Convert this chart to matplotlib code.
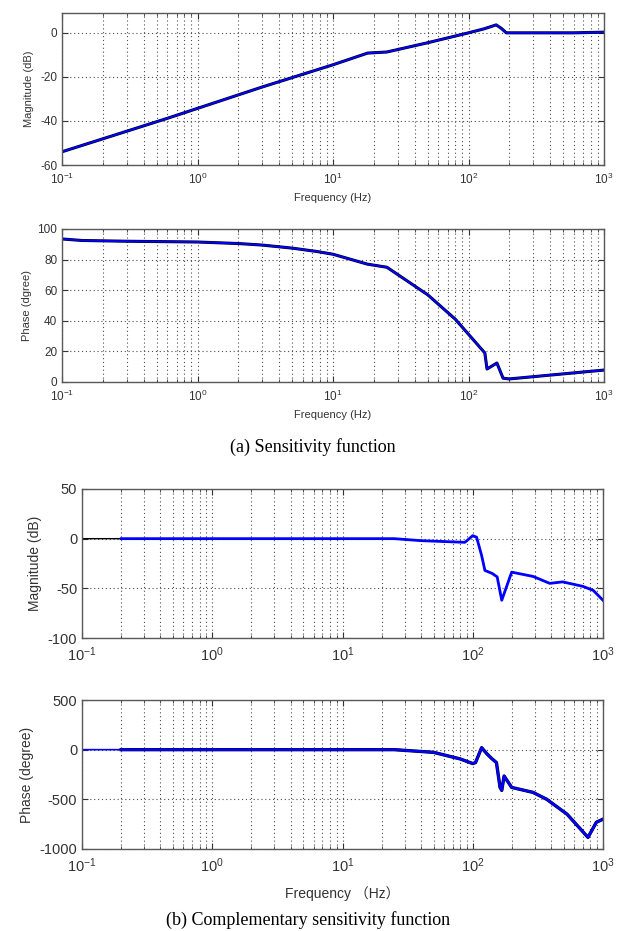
import numpy as np
from matplotlib import pyplot as plt
from matplotlib.ticker import LogLocator, NullFormatter

plt.rcParams['axes.unicode_minus'] = False
plt.rcParams['mathtext.fontset'] = 'custom'
plt.rcParams['mathtext.rm'] = 'Liberation Sans'
plt.rcParams['mathtext.it'] = 'Liberation Sans:italic'
plt.rcParams['mathtext.bf'] = 'Liberation Sans:bold'

# sensitivity function S
s_freq = [0.1, 0.6, 1, 3, 10, 18, 25, 50, 100, 130, 160, 175, 190, 300, 600, 1000]
s_mag = [-54, -38.8, -34.3, -24.6, -14.5, -9.2, -8.7, -4.5, 0, 1.8, 3.6, 2, 0, 0, 0, 0.3]
s_ph_freq = [0.1, 0.14, 0.3, 1, 2, 3, 5, 7.6, 10, 18, 25, 50, 80, 132, 137, 162, 180, 200, 1000]
s_phase = [93.5, 92.5, 92, 91.5, 90.5, 89.5, 87.5, 85.3, 83.5, 77, 75, 57, 41, 19, 8.5, 12.4, 2.5, 2, 7.8]

# complementary sensitivity function T
t_freq = [0.1, 0.2, 25, 40, 87, 100, 107, 117, 124, 141, 154, 167, 199, 290, 390, 490, 700, 840, 1000]
t_mag = [0, 0, 0, -2, -3.7, 3, 1.5, -17, -32, -35, -38.5, -62, -33.7, -38, -45, -43.5, -48, -52, -62]
t_ph_freq = [0.1, 0.2, 25, 50, 80, 100, 105, 117, 128, 140, 152, 162, 167, 174, 199, 290, 370, 530, 767, 890, 1000]
t_phase = [0, 0, 0, -27, -93, -140, -130, 20, -40, -90, -130, -380, -410, -265, -380, -430, -500, -650, -883, -730, -700]

W, H = 623, 931
fig = plt.figure(figsize=(W / 100, H / 100), dpi=100)
sans = ['Liberation Sans', 'Noto Sans CJK SC']


def make_axes(x0, x1, y0, y1):
    return fig.add_axes([x0 / W, 1 - y1 / H, (x1 - x0) / W, (y1 - y0) / H])


def style(ax, ylim, yticks, fs):
    ax.set_xscale('log')
    ax.set_xlim(0.1, 1000)
    ax.set_ylim(*ylim)
    ax.set_yticks(yticks)
    ax.xaxis.set_major_locator(LogLocator(base=10, numticks=10))
    ax.xaxis.set_minor_locator(LogLocator(base=10, subs=np.arange(2, 10), numticks=20))
    ax.xaxis.set_minor_formatter(NullFormatter())
    ax.tick_params(which='both', direction='in', top=True, right=True, labelsize=fs, colors='0.2')
    ax.tick_params(which='major', length=4)
    ax.tick_params(which='minor', length=2.5)
    ax.tick_params(axis='x', pad=5)
    for lab in ax.get_xticklabels() + ax.get_yticklabels():
        lab.set_family(sans)
    ax.grid(True, which='both', axis='x', linestyle=(0, (1, 2.5)), color='0.3', lw=0.8)
    ax.grid(True, which='major', axis='y', linestyle=(0, (1, 2.5)), color='0.3', lw=0.8)
    for sp in ax.spines.values():
        sp.set_color('0.35')
        sp.set_linewidth(1.0)
    ax.set_axisbelow(True)


# (a) top: magnitude
ax1 = make_axes(62, 604, 13, 165)
ax1.plot(s_freq, s_mag, color='k', lw=2.2)
ax1.plot(s_freq, s_mag, color='#0000ff', lw=1.4)
style(ax1, (-60, 9), [-60, -40, -20, 0], 8.5)
ax1.set_ylabel('Magnitude (dB)', fontsize=8, family=sans, color='0.2')
ax1.set_xlabel('Frequency (Hz)', fontsize=8, family=sans, color='0.2', labelpad=4)

# (a) bottom: phase
ax2 = make_axes(62, 604, 229, 382)
ax2.plot(s_ph_freq, s_phase, color='k', lw=2.2)
ax2.plot(s_ph_freq, s_phase, color='#0000ff', lw=1.4)
style(ax2, (0, 100), [0, 20, 40, 60, 80, 100], 8.5)
ax2.set_ylabel('Phase (dgree)', fontsize=8, family=sans, color='0.2')
ax2.set_xlabel('Frequency (Hz)', fontsize=8, family=sans, color='0.2', labelpad=4)

fig.text(313 / W, 1 - 447 / H, '(a) Sensitivity function', ha='center', va='center',
         fontsize=13, family='Liberation Serif')

# (b) top: magnitude
ax3 = make_axes(82, 603, 489, 638)
ax3.plot(t_freq, t_mag, color='k', lw=1.0)
ax3.plot(t_freq[1:], t_mag[1:], color='#0000ff', lw=2.0)
style(ax3, (-100, 50), [-100, -50, 0, 50], 10.5)
ax3.set_ylabel('Magnitude (dB)', fontsize=10, family=sans, color='0.2')

# (b) bottom: phase
ax4 = make_axes(82, 603, 700, 849)
ax4.plot(t_ph_freq, t_phase, color='#0000ff', lw=1.2)
ax4.plot(t_ph_freq[1:], t_phase[1:], color='k', lw=2.4)
ax4.plot(t_ph_freq[1:], t_phase[1:], color='#0000ff', lw=1.8)
style(ax4, (-1000, 500), [-1000, -500, 0, 500], 10.5)
ax4.set_ylabel('Phase (degree)', fontsize=10, family=sans, color='0.2')
ax4.set_xlabel('Frequency （Hz）', fontsize=10, family=sans, color='0.2', labelpad=8)

fig.text(308 / W, 1 - 920 / H, '(b) Complementary sensitivity function', ha='center', va='center',
         fontsize=13, family='Liberation Serif')

fig.savefig('out.png', dpi=100)
